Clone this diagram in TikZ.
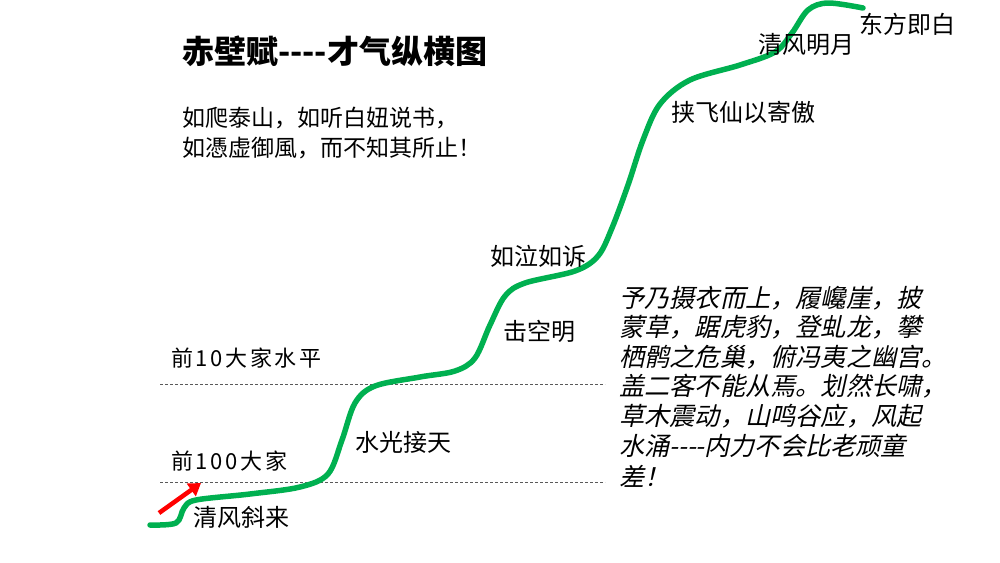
\documentclass[tikz,border=0pt]{standalone}
\usepackage{fontspec}
\usetikzlibrary{arrows.meta}
\newfontfamily\cjk{Noto Sans CJK SC}
\newfontfamily\cjkspaced[LetterSpace=12]{Noto Sans CJK SC}
\newfontfamily\cjkit[FakeSlant=0.22]{Noto Sans CJK SC}
\definecolor{curvegreen}{RGB}{0,176,80}
\tikzset{
  lbl/.style={font=\cjk\fontsize{24}{27}\selectfont, inner sep=0pt, anchor=west},
  lvl/.style={font=\cjkspaced\fontsize{22}{25}\selectfont, inner sep=0pt, anchor=west},
  poem/.style={font=\cjk\fontsize{23}{26}\selectfont, inner sep=0pt, anchor=west},
  quote/.style={font=\cjkit\fontsize{25.2}{28}\selectfont, inner sep=0pt, anchor=west},
  titlestyle/.style={font=\cjk\bfseries\fontsize{32}{36}\selectfont, inner sep=0pt, anchor=west},
  levelline/.style={gray!70!black, line width=0.8pt, dash pattern=on 3pt off 2pt},
  path/.style={curvegreen, line width=5.5pt, line cap=round, line join=round},
  redarrow/.style={red, line width=4.5pt, -{Triangle[length=12pt,width=15pt]}}
}
\begin{document}
\begin{tikzpicture}[x=1pt,y=-1pt]
\useasboundingbox (0,0) rectangle (1000,562);
\fill[white] (0,0) rectangle (1000,562);

% title
\node[titlestyle] (title) at (182,51) {赤壁赋{-}{-}{-}{-}才气纵横图};

% poem
\node[poem] (p1) at (182,118) {如爬泰山，如听白妞说书，};
\node[poem] (p2) at (182,148) {如憑虚御風，而不知其所止！};

% level lines
\coordinate (d1a) at (160,384);
\coordinate (d1b) at (605,384);
\coordinate (d2a) at (160,482);
\coordinate (d2b) at (605,482);
\draw[levelline] (d1a) -- (d1b);
\draw[levelline] (d2a) -- (d2b);
\node[lvl] (lv10) at (171,358) {前10大家水平};
\node[lvl] (lv100) at (171,461) {前100大家};

% green curve
\draw[path] plot[smooth, tension=0.55] coordinates {
 (150,525) (176,523) (184,508) (196,500) (250,494) (300,487) (328,474)
 (342,440) (355,403) (375,386) (420,377) (455,371) (475,358) (490,325)
 (505,296) (525,283) (575,271) (598,256) (612,228) (628,185) (643,140)
 (660,104) (690,80) (740,65) (775,52) (792,33) (808,10) (828,3) (863,8)};

% red arrow
\coordinate (arrS) at (159,513);
\coordinate (arrE) at (201,483);
\draw[redarrow] (arrS) -- (arrE);

% labels along curve
\node[lbl] (l1) at (193,517) {清风斜来};
\node[lbl] (l2) at (355,442) {水光接天};
\node[lbl] (l3) at (503,331) {击空明};
\node[lbl] (l4) at (490,256) {如泣如诉};
\node[lbl] (l5) at (671,112) {挟飞仙以寄傲};
\node[lbl] (l6) at (758,44) {清风明月};
\node[lbl] (l7) at (859,24) {东方即白};

% quote block
\node[quote] (q1) at (619,298) {予乃摄衣而上，履巉崖，披};
\node[quote] (q2) at (619,327.5) {蒙草，踞虎豹，登虬龙，攀};
\node[quote] (q3) at (619,357) {栖鹘之危巢，俯冯夷之幽宫。};
\node[quote] (q4) at (619,386.5) {盖二客不能从焉。划然长啸，};
\node[quote] (q5) at (619,416) {草木震动，山鸣谷应，风起};
\node[quote] (q6) at (619,445.5) {水涌{-}{-}{-}{-}内力不会比老顽童};
\node[quote] (q7) at (619,476) {差！};
\end{tikzpicture}
\end{document}
